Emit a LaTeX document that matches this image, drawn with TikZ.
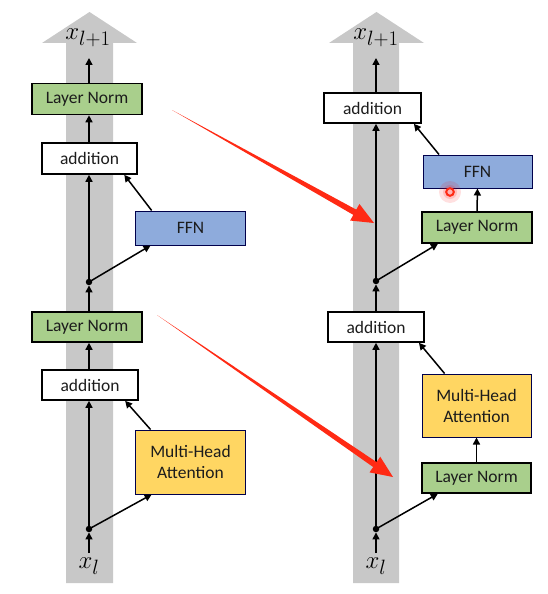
\documentclass[tikz,border=0pt]{standalone}
\usepackage{fontspec}
\setmainfont{Carlito}
\usetikzlibrary{calc,arrows.meta}
\definecolor{barg}{HTML}{C8C8C8}
\definecolor{lngreen}{HTML}{A9CF8C}
\definecolor{ffnblue}{HTML}{8EABDC}
\definecolor{mhayel}{HTML}{FFD662}
\definecolor{redarr}{HTML}{FF2A14}
\definecolor{txt}{HTML}{1C1C1C}
\tikzset{
  box/.style={draw=black, line width=1.6pt, rectangle, inner sep=0pt, align=center,
    font=\fontsize{17.5}{21}\selectfont, text=txt},
  lnbox/.style={box, fill=lngreen, minimum width=110pt, minimum height=31pt},
  addbox/.style={box, fill=white, minimum width=96pt, minimum height=30pt},
  ffnbox/.style={box, draw=black!70!blue, line width=1pt, fill=ffnblue, minimum width=110pt, minimum height=34pt},
  mhabox/.style={box, draw=black!70!blue, line width=1pt, fill=mhayel, minimum width=110pt, minimum height=64pt},
  jdot/.style={circle, fill=black, inner sep=0pt, minimum size=6.5pt},
  conn/.style={line width=1.5pt, -{Triangle[length=7pt,width=7pt]}},
  xlab/.style={inner sep=0pt, font=\fontsize{29}{29}\selectfont},
  redfill/.style={fill=redarr}
}
\begin{document}
\begin{tikzpicture}[x=1pt,y=-1pt]
\useasboundingbox[fill=white] (0,0) rectangle (548,594);
% gray bars
\fill[barg] (66,583) -- (66,43) -- (42,43) -- (89.5,12) -- (137,43) -- (113,43) -- (113,583) -- cycle;
\fill[barg] (353,583) -- (353,43) -- (329,43) -- (376.5,12) -- (424,43) -- (399,43) -- (399,583) -- cycle;

% ---------- left column ----------
\node[xlab] (xl1L) at (88,38) {$x_{l+1}$};
\node[lnbox] (ln2L) at (87,99) {Layer Norm};
\node[addbox, minimum width=95pt, minimum height=31pt] (addL2) at (89.5,158.5) {addition};
\node[ffnbox] (ffnL) at (190.5,228) {FFN};
\node[jdot] (dotL2) at (89,282) {};
\node[lnbox, minimum height=30pt] (ln1L) at (87,327) {Layer Norm};
\node[addbox] (addL1) at (90,385) {addition};
\node[mhabox] (mhaL) at (190.5,462) {Multi-Head\\Attention};
\node[jdot] (dotL1) at (89,529) {};
\node[xlab] (xlL) at (89,566) {$x_l$};
\coordinate (topL) at (89,58);

\draw[conn] (89,553) -- (dotL1.south);
\draw[conn] (dotL1.center) -- (dotL1 |- addL1.south);
\draw[conn] (dotL1.center) -- ($(mhaL.south west)!0.15!(mhaL.south east)$);
\draw[conn] ($(mhaL.north west)!0.14!(mhaL.north east)$) -- ($(addL1.south west)!0.86!(addL1.south east)$);
\draw[conn] (addL1.north -| dotL1) -- (ln1L.south -| dotL1);
\draw[conn] (ln1L.north -| dotL2) -- (dotL2.south);
\draw[conn] (dotL2.center) -- (dotL2 |- addL2.south);
\draw[conn] (dotL2.center) -- ($(ffnL.south west)!0.14!(ffnL.south east)$);
\draw[conn] ($(ffnL.north west)!0.15!(ffnL.north east)$) -- ($(addL2.south west)!0.86!(addL2.south east)$);
\draw[conn] (addL2.north -| dotL2) -- (ln2L.south -| dotL2);
\draw[conn] (ln2L.north -| dotL2) -- (topL);

% ---------- right column ----------
\node[xlab] (xl1R) at (376,38) {$x_{l+1}$};
\node[addbox, minimum width=97pt] (addR2) at (372.5,108) {addition};
\node[ffnbox, minimum width=109pt, minimum height=33pt] (ffnR) at (477.5,171.5) {FFN};
\node[lnbox] (lnR2) at (477,227.5) {Layer Norm};
\node[jdot] (dotR2) at (376,281) {};
\node[addbox] (addR1) at (376,327) {addition};
\node[mhabox, minimum width=109pt, minimum height=63pt] (mhaR) at (476.5,405.5) {Multi-Head\\Attention};
\node[lnbox, minimum width=109pt, minimum height=30pt] (lnR1) at (476.5,478) {Layer Norm};
\node[jdot] (dotR1) at (376,529) {};
\node[xlab] (xlR) at (376,566) {$x_l$};
\coordinate (topR) at (376,58);

\draw[conn] (376,553) -- (dotR1.south);
\draw[conn] (dotR1.center) -- (dotR1 |- addR1.south);
\draw[conn] (dotR1.center) -- ($(lnR1.south west)!0.15!(lnR1.south east)$);
\draw[conn] (lnR1.north) -- (mhaR.south);
\draw[conn] ($(mhaR.north west)!0.21!(mhaR.north east)$) -- ($(addR1.south west)!0.94!(addR1.south east)$);
\draw[conn] (addR1.north -| dotR2) -- (dotR2.south);
\draw[conn] (dotR2.center) -- (dotR2 |- addR2.south);
\draw[conn] (dotR2.center) -- ($(lnR2.south west)!0.15!(lnR2.south east)$);
\draw[conn] (lnR2.north) -- (ffnR.south);
\draw[conn] ($(ffnR.north west)!0.15!(ffnR.north east)$) -- ($(addR2.south west)!0.92!(addR2.south east)$);
\draw[conn] (addR2.north -| dotR2) -- (topR);

% ---------- red arrows ----------
\coordinate (rs1) at (172,110);
\coordinate (rt1) at (374,223);
\coordinate (rb1) at ($(rt1)!22pt!(rs1)$);
\fill[redarr] (rs1) -- ($(rb1)!3pt!90:(rt1)$) -- ($(rb1)!9.5pt!90:(rt1)$) -- (rt1)
  -- ($(rb1)!9.5pt!-90:(rt1)$) -- ($(rb1)!3pt!-90:(rt1)$) -- cycle;
\coordinate (rs2) at (157,315);
\coordinate (rt2) at (393,477);
\coordinate (rb2) at ($(rt2)!22pt!(rs2)$);
\fill[redarr] (rs2) -- ($(rb2)!3pt!90:(rt2)$) -- ($(rb2)!9.5pt!90:(rt2)$) -- (rt2)
  -- ($(rb2)!9.5pt!-90:(rt2)$) -- ($(rb2)!3pt!-90:(rt2)$) -- cycle;

% cursor highlight
\fill[red, opacity=0.12] (450,192) circle (11);
\fill[red, opacity=0.15] (450,192) circle (7);
\draw[redarr, line width=2pt, fill=white!70!red] (450,192) circle (3.8);
\end{tikzpicture}
\end{document}
